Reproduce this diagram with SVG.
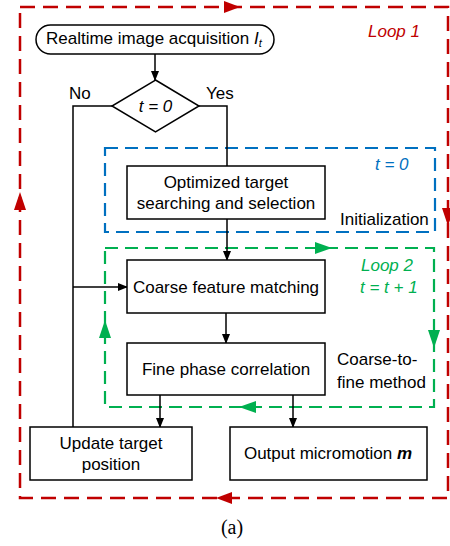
<svg xmlns="http://www.w3.org/2000/svg" width="450" height="546" viewBox="0 0 450 546">
  <style>
    text { font-family: "Liberation Sans", Arial, sans-serif; font-size: 17px; fill: #000; }
    .box { fill: #fff; stroke: #000; stroke-width: 1.5; }
    .wire { fill: none; stroke: #000; stroke-width: 1.5; }
    .red { fill: none; stroke: #C00000; stroke-width: 2.5; stroke-dasharray: 15 8; }
    .blue { fill: none; stroke: #0070C0; stroke-width: 2.2; stroke-dasharray: 13 7; }
    .green { fill: none; stroke: #00B050; stroke-width: 2.2; stroke-dasharray: 13 7; }
    .it { font-style: italic; }
  </style>
  <defs>
    <marker id="arr" markerWidth="10" markerHeight="8" refX="9" refY="4" orient="auto" markerUnits="userSpaceOnUse">
      <path d="M0,0 L10,4 L0,8 Z" fill="#000"/>
    </marker>
  </defs>
  <rect width="450" height="546" fill="#fff"/>

  <!-- loop frames -->
  <g id="loop1">
    <rect x="20" y="7" width="428" height="491" class="red"/>
    <path d="M224,1 L240,7 L224,13 Z" fill="#C00000"/>
    <path d="M232,492 L216,498 L232,504 Z" fill="#C00000"/>
    <path d="M14,210 L20,192 L26,210 Z" fill="#C00000"/>
    <path d="M442,208 L448,226 L454,208 Z" fill="#C00000"/>
    <text x="368" y="37" class="it" style="fill:#C00000">Loop 1</text>
  </g>
  <g id="init">
    <rect x="105" y="148" width="330" height="84" class="blue"/>
    <text x="375" y="170" class="it" style="fill:#0070C0">t = 0</text>
    <text x="340" y="225">Initialization</text>
  </g>
  <g id="loop2">
    <rect x="105" y="248" width="329" height="159" class="green"/>
    <path d="M315,242 L332,248 L315,254 Z" fill="#00B050"/>
    <path d="M256,401 L239,407 L256,413 Z" fill="#00B050"/>
    <path d="M99,338 L105,320 L111,338 Z" fill="#00B050"/>
    <path d="M428,330 L434,348 L440,330 Z" fill="#00B050"/>
    <text x="361" y="271" class="it" style="fill:#00B050">Loop 2</text>
    <text x="360" y="293" class="it" style="fill:#00B050">t = t + 1</text>
    <text x="337" y="365">Coarse-to-</text>
    <text x="337" y="388">fine method</text>
  </g>

  <!-- connectors -->
  <g id="connectors">
    <line x1="155" y1="54" x2="155" y2="80" class="wire" marker-end="url(#arr)"/>
    <polyline points="112,106 73,106 73,427" class="wire"/>
    <polyline points="199,106 227,106 227,166" class="wire"/>
    <line x1="227" y1="219" x2="227" y2="260" class="wire" marker-end="url(#arr)"/>
    <line x1="73" y1="287" x2="127" y2="287" class="wire" marker-end="url(#arr)"/>
    <line x1="226" y1="313" x2="226" y2="343" class="wire" marker-end="url(#arr)"/>
    <line x1="160" y1="395" x2="160" y2="427" class="wire" marker-end="url(#arr)"/>
    <line x1="293" y1="395" x2="293" y2="427" class="wire" marker-end="url(#arr)"/>
    <text x="69" y="99">No</text>
    <text x="206" y="99">Yes</text>
  </g>

  <!-- nodes -->
  <g id="acquire">
    <rect x="36" y="25" width="238" height="29" rx="14.5" class="box"/>
    <text x="46" y="43.5">Realtime image acquisition <tspan class="it">I</tspan><tspan class="it" font-size="11" dy="3">t</tspan></text>
  </g>
  <g id="decision">
    <polygon points="155.5,80 199,106 155.5,132 112,106" class="box"/>
    <text x="155.5" y="112" text-anchor="middle" class="it">t = 0</text>
  </g>
  <g id="optimize">
    <rect x="127" y="166" width="198" height="53" class="box"/>
    <text x="226" y="188" text-anchor="middle">Optimized target</text>
    <text x="226" y="209" text-anchor="middle">searching and selection</text>
  </g>
  <g id="coarse">
    <rect x="127" y="260" width="198" height="53" class="box"/>
    <text x="226" y="293" text-anchor="middle">Coarse feature matching</text>
  </g>
  <g id="fine">
    <rect x="127" y="343" width="198" height="52" class="box"/>
    <text x="226" y="375" text-anchor="middle">Fine phase correlation</text>
  </g>
  <g id="update">
    <rect x="30" y="427" width="162" height="53" class="box"/>
    <text x="111" y="449" text-anchor="middle">Update target</text>
    <text x="111" y="470" text-anchor="middle">position</text>
  </g>
  <g id="output">
    <rect x="230" y="427" width="197" height="53" class="box"/>
    <text x="328" y="459" text-anchor="middle">Output micromotion <tspan font-weight="bold" class="it">m</tspan></text>
  </g>

  <text x="232" y="534" text-anchor="middle" style="font-family:'Liberation Serif','Times New Roman',serif;font-size:20px">(a)</text>
</svg>
